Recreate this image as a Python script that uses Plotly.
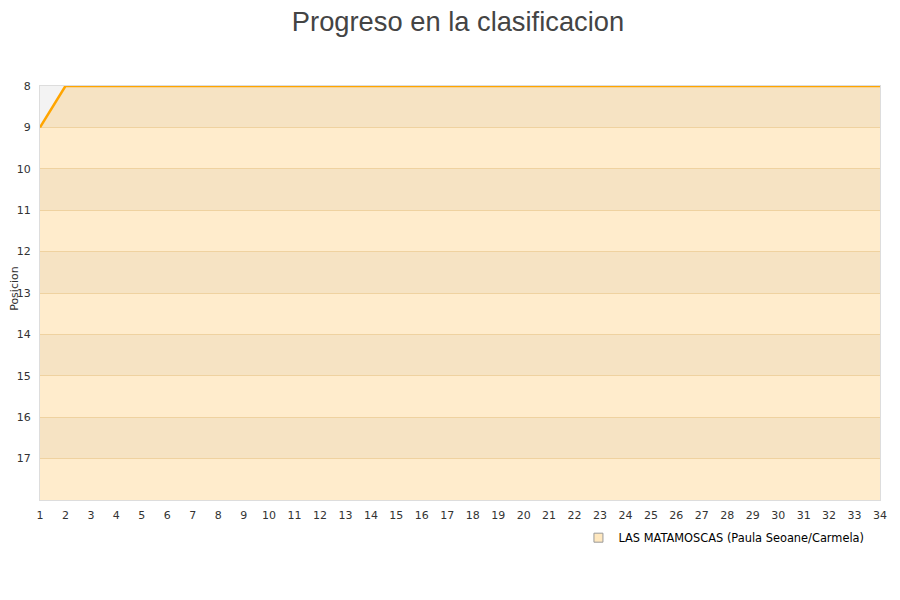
import plotly.graph_objects as go

# jornada and position
jornadas = list(range(1, 35))
posiciones = [9, 8, 8, 8, 8, 8, 8, 8, 8, 8, 8, 8, 8, 8, 8, 8, 8,
              8, 8, 8, 8, 8, 8, 8, 8, 8, 8, 8, 8, 8, 8, 8, 8, 8]
y_ticks = [8, 9, 10, 11, 12, 13, 14, 15, 16, 17]
equipo = "LAS MATAMOSCAS (Paula Seoane/Carmela)"
fondo = 18

fig = go.Figure()

# invisible base so the area fills down to the bottom of the reversed axis
fig.add_trace(
    go.Scatter(
        x=jornadas,
        y=[fondo] * len(jornadas),
        mode="lines",
        line=dict(width=0),
        showlegend=False,
        hoverinfo="skip",
    )
)
fig.add_trace(
    go.Scatter(
        x=jornadas,
        y=posiciones,
        mode="lines",
        name=equipo,
        line=dict(width=2.5, color="#FFA500"),
        fill="tonexty",
        fillcolor="rgba(255,179,51,0.25)",
        showlegend=False,
    )
)
# legend entry with square marker
fig.add_trace(
    go.Scatter(
        x=[None],
        y=[None],
        mode="markers",
        name=equipo,
        marker=dict(symbol="square", size=9, color="#FFE8BF",
                    line=dict(color="#999999", width=1)),
    )
)

# alternating grey bands
for y0 in y_ticks[::2]:
    fig.add_shape(
        type="rect",
        xref="paper",
        x0=0,
        x1=1,
        yref="y",
        y0=y0,
        y1=y0 + 1,
        fillcolor="#f3f3f3",
        line=dict(width=0),
        layer="below",
    )

# y axis title as an annotation so it can sit left of the tick labels
fig.add_annotation(
    text="Posicion",
    xref="paper",
    yref="paper",
    x=0,
    y=0.51,
    xanchor="center",
    yanchor="middle",
    xshift=-25,
    textangle=-90,
    showarrow=False,
    font=dict(size=11, color="#333333"),
)

fig.update_layout(
    width=900,
    height=600,
    title=dict(
        text="Progreso en la clasificacion",
        x=0.5,
        xanchor="center",
        y=1,
        yanchor="top",
        pad=dict(t=4, b=0),
        font=dict(family="Liberation Sans", size=27.3, color="#444444"),
    ),
    font=dict(family="DejaVu Sans", size=11, color="#333333"),
    plot_bgcolor="white",
    paper_bgcolor="white",
    margin=dict(l=32, r=28, t=78, b=108, autoexpand=False),
    showlegend=True,
    legend=dict(
        orientation="h",
        x=0.641,
        xanchor="left",
        y=-0.056,
        yanchor="top",
        font=dict(size=11.4, color="#000000"),
    ),
)
fig.update_xaxes(
    range=[1, 34],
    tickmode="array",
    tickvals=jornadas,
    showgrid=False,
    zeroline=False,
    showline=True,
    linecolor="#dddddd",
    mirror=True,
    ticks="",
    ticklabelstandoff=5,
    automargin=False,
)
fig.update_yaxes(
    range=[fondo, 8],
    tickmode="array",
    tickvals=y_ticks,
    showgrid=True,
    gridcolor="#eadcc4",
    zeroline=False,
    showline=True,
    linecolor="#dddddd",
    mirror=True,
    ticks="",
    ticklabelstandoff=6,
    automargin=False,
)

fig.write_html("out.html")
